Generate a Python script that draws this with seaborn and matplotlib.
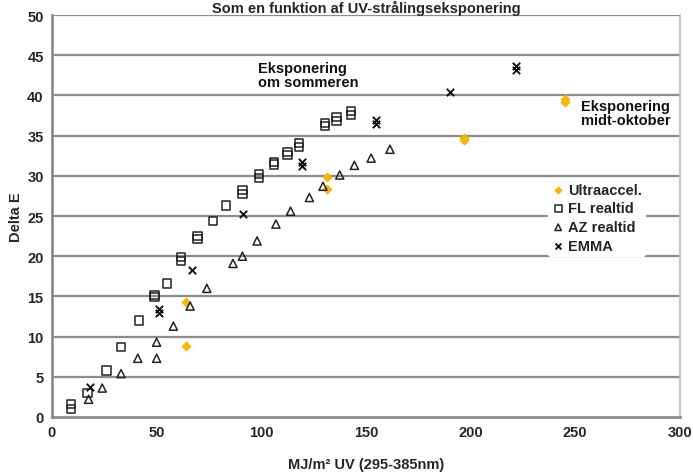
import matplotlib
matplotlib.use('Agg')
import matplotlib.pyplot as plt
import seaborn as sns

# Ultraaccel. (orange diamonds)
ultra_x = [64, 64, 131.5, 131.5, 197, 197, 245, 245]
ultra_y = [14.3, 8.8, 29.8, 28.3, 34.7, 34.4, 39.6, 39.2]

# FL realtid (open squares)
fl_x = [9, 9, 17, 26, 33, 41.5, 49, 49, 55, 61.5, 61.5, 69.5, 69.5, 77, 83,
        91, 91, 99, 99, 106, 106, 112.5, 112.5, 118, 118, 130.5, 130.5,
        136, 136, 143, 143]
fl_y = [1.6, 1.0, 3.0, 5.8, 8.7, 12.0, 15.2, 14.9, 16.6, 19.9, 19.4, 22.5, 22.1,
        24.4, 26.3, 28.2, 27.7, 30.2, 29.7, 31.7, 31.4, 33.0, 32.6, 34.1, 33.6,
        36.6, 36.2, 37.3, 36.8, 38.1, 37.6]

# AZ realtid (open triangles)
az_x = [17.5, 24, 33, 41, 50, 50, 58, 66, 74, 86.5, 91, 98, 107, 114, 123,
        129.5, 137.5, 144.5, 152.5, 161.5]
az_y = [2.2, 3.6, 5.4, 7.3, 7.3, 9.3, 11.3, 13.8, 16.0, 19.1, 20.0, 21.9, 24.0,
        25.6, 27.3, 28.7, 30.1, 31.3, 32.2, 33.3]

# EMMA (crosses)
emma_x = [18, 51, 51, 67, 91.5, 119.5, 119.5, 155, 155, 190, 221.5, 221.5]
emma_y = [3.7, 13.4, 12.9, 18.3, 25.3, 31.7, 31.2, 37.0, 36.4, 40.4, 43.6, 43.1]

x_ticks = [0, 50, 100, 150, 200, 250, 300]
y_ticks = [0, 5, 10, 15, 20, 25, 30, 35, 40, 45, 50]

sns.set_style('white')
plt.rcParams['font.family'] = ['Liberation Sans Narrow', 'Liberation Sans', 'DejaVu Sans']
plt.rcParams['font.weight'] = 'bold'

fig = plt.figure(figsize=(6.93, 4.77), dpi=100)
ax = fig.add_axes([0.075, 0.1237, 0.906, 0.8427])

grid_col = '#8c8c8c'
for v in y_ticks[1:]:
    ax.axhline(v, color=grid_col, lw=1.6, zorder=0)

orange = '#F7B500'
sns.scatterplot(x=ultra_x, y=ultra_y, marker='D', s=22, color=orange,
                edgecolor=orange, linewidth=0.5, ax=ax, label='Ultraaccel.', zorder=3)
sns.scatterplot(x=fl_x, y=fl_y, marker='s', s=36, facecolors='none',
                edgecolor='#222222', linewidth=1.1, ax=ax, label='FL realtid', zorder=3)
sns.scatterplot(x=az_x, y=az_y, marker='^', s=34, facecolors='none',
                edgecolor='#222222', linewidth=1.1, ax=ax, label='AZ realtid', zorder=3)
sns.scatterplot(x=emma_x, y=emma_y, marker='x', s=28, color='#111111',
                linewidth=1.4, ax=ax, label='EMMA', zorder=3)

ax.set_xlim(0, 300)
ax.set_ylim(0, 50)
ax.set_xticks(x_ticks)
ax.set_yticks(y_ticks)
ax.tick_params(axis='both', labelsize=10.5, length=3, color=grid_col,
               direction='out', width=1, pad=3)
for lab in ax.get_xticklabels() + ax.get_yticklabels():
    lab.set_fontweight('bold')

for side in ['left', 'bottom']:
    ax.spines[side].set_color(grid_col)
    ax.spines[side].set_linewidth(2)
ax.spines['right'].set_color('#bbbbbb')
ax.spines['right'].set_linewidth(1.2)
ax.spines['top'].set_visible(False)

ax.set_xlabel('MJ/m² UV (295-385nm)', fontsize=10.5, fontweight='bold', labelpad=13)
ax.set_ylabel('Delta E', fontsize=10.5, fontweight='bold', labelpad=3)

ax.text(98.5, 44.3, 'Eksponering\nom sommeren', fontsize=10.5, fontweight='bold',
        va='top', ha='left', linespacing=1.0, color='#111111')
ax.text(253, 39.6, 'Eksponering\nmidt-oktober', fontsize=10.5, fontweight='bold',
        va='top', ha='left', linespacing=1.0, color='#111111')

leg = ax.legend(loc='upper left', bbox_to_anchor=(0.79, 0.59), fontsize=10.5,
                frameon=True, framealpha=1, facecolor='white', edgecolor='white',
                handletextpad=0.2, labelspacing=0.32, borderpad=0.2,
                markerscale=0.8, handlelength=1.0, borderaxespad=0)
for t in leg.get_texts():
    t.set_fontweight('bold')

fig.text(0.528, 0.999, 'Som en funktion af UV-strålingseksponering', ha='center',
         va='top', fontsize=10.5, fontweight='bold')

fig.savefig('out.png', dpi=100)
